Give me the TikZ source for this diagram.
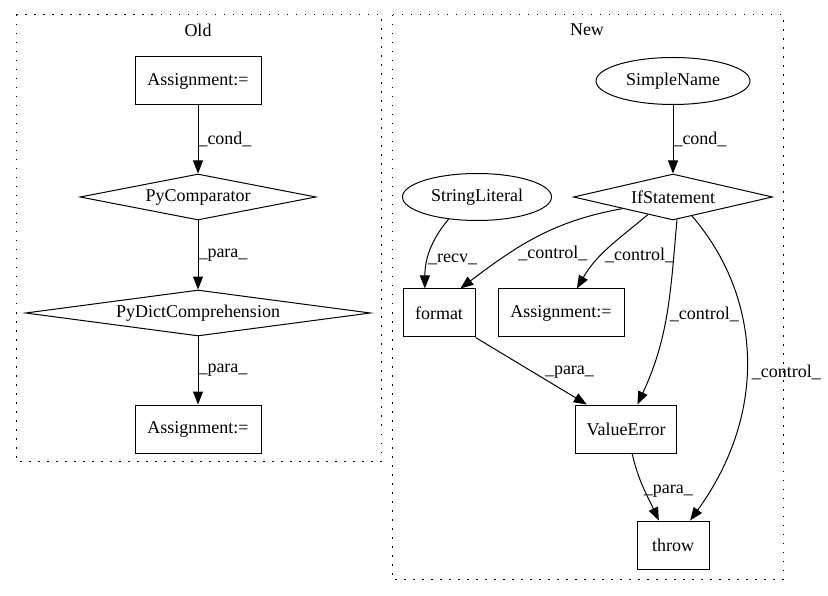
\documentclass[tikz,border=0pt]{standalone}
\usepackage{fontspec}
\setmainfont{Liberation Serif}
\usetikzlibrary{shapes.geometric,arrows.meta}

\begin{document}
\begin{tikzpicture}[x=1pt,y=1pt,->,>={Triangle[length=13pt,width=10pt]},node distance=116pt,line width=1pt,
    main node/.style={font=\fontsize{18pt}{20pt}\selectfont},
    box/.style={main node,rectangle,draw,minimum height=48pt,inner sep=0pt},
    dia/.style={main node,diamond,draw,minimum height=46pt,inner sep=0pt},
    oval/.style={main node,ellipse,draw,minimum height=47pt,inner sep=0pt},
    lbl/.style={font=\fontsize{18pt}{20pt}\selectfont,inner sep=0pt,anchor=west},
    cluster/.style={-,draw,dash pattern=on 1.5pt off 7.5pt,line width=1pt}]

            \useasboundingbox (0,0) rectangle (828,-596);

            % clusters
            \draw[cluster] (16,-15) rectangle (381,-461);
            \draw[cluster] (392,-15) rectangle (783,-579);
            \node[main node] (old) at (198,-30) {Old};
            \node[main node] (new) at (587,-30) {New};

            % old
            \node[box, minimum width=126pt] (a1) at (198,-81) {Assignment:=};
            \node[dia, minimum width=236pt, aspect=5.1] (pc) [below of = a1] {PyComparator};
            \node[dia, minimum width=345pt, aspect=7.5] (pdc) [below of = pc] {PyDictComprehension};
            \node[box, minimum width=126pt] (a2) [below of = pdc] {Assignment:=};

            % new
            \node[oval, minimum width=154pt] (sn) at (673,-81) {SimpleName};
            \node[dia, minimum width=199pt, aspect=4.3] (ifs) [below of = sn] {IfStatement};
            \node[oval, minimum width=149pt] (sl) at (477,-197) {StringLiteral};
            \node[box, minimum width=72pt] (fmt) at (439,-313) {format};
            \node[box, minimum width=126pt] (asg) at (561,-313) {Assignment:=};
            \node[box, minimum width=101pt] (ve) at (626,-429) {ValueError};
            \node[box, minimum width=72pt] (thr) at (673,-545) {throw};

            \draw (a1) to node[lbl] {\_cond\_} (pc);
            \draw (pc) to node[lbl] {\_para\_} (pdc);
            \draw (pdc) to node[lbl] {\_para\_} (a2);

            \draw (sn) to node[lbl] {\_cond\_} (ifs);
            \draw (sl.-142) to[out=230,in=90] node[lbl, pos=0.62] {\_recv\_} (fmt.120);
            \draw (ifs.-167) to[out=190,in=37] node[lbl, pos=0.45, anchor=north west, xshift=-26pt, yshift=-12pt] {\_control\_} (fmt.49);
            \draw (ifs.-145) to[out=220,in=60] node[lbl, pos=0.6, xshift=3pt] {\_control\_} (asg.57);
            \draw (ifs.-80) to[out=-95,in=65] node[lbl, pos=0.5, xshift=3pt] {\_control\_} (ve.65);
            \draw (ifs.-45) .. controls (760,-295) and (770,-410) .. node[lbl, pos=0.55, xshift=5pt] {\_control\_} (thr.55);
            \draw (fmt.south east) to node[lbl, pos=0.62, anchor=south west] {\_para\_} (ve.148);
            \draw (ve.-76) to[out=-77,in=115] node[lbl, pos=0.5, yshift=-3pt] {\_para\_} (thr.120);

            ;
        \end{tikzpicture}
\end{document}
